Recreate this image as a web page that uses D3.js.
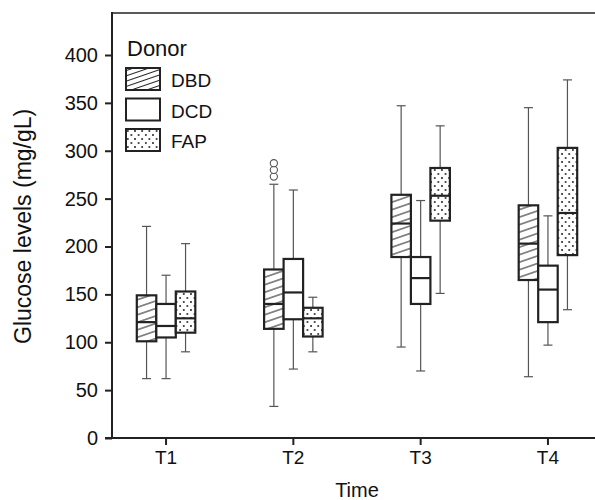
<!DOCTYPE html>
<html>
<head>
<meta charset="utf-8">
<script src="https://cdn.jsdelivr.net/npm/d3@7"></script>
<style>
  body { margin: 0; background: #fff; }
  svg { display: block; font-family: "Liberation Sans", Arial, sans-serif; }
</style>
</head>
<body>
<div id="container"></div>
<script>
// DATA
const times = ["T1", "T2", "T3", "T4"];
const donors = ["DBD", "DCD", "FAP"];
const yTicks = [0, 50, 100, 150, 200, 250, 300, 350, 400];

// [min, q1, median, q3, max] per time point
const dbdStats = [[62, 101, 121, 149, 221], [33, 114, 140, 176, 265], [95, 189, 224, 254, 347], [64, 165, 203, 243, 345]];
const dcdStats = [[62, 105, 117, 140, 170], [72, 124, 152, 187, 259], [70, 140, 167, 189, 248], [97, 121, 155, 180, 232]];
const fapStats = [[90, 110, 125, 153, 203], [90, 106, 125, 136, 147], [151, 227, 253, 282, 326], [134, 191, 235, 303, 374]];
const dbdOutliers = [[], [273, 280, 287], [], []];
const dcdOutliers = [[], [], [], []];
const fapOutliers = [[], [], [], []];

const statsByDonor = { DBD: dbdStats, DCD: dcdStats, FAP: fapStats };
const outliersByDonor = { DBD: dbdOutliers, DCD: dcdOutliers, FAP: fapOutliers };

const boxes = [];
donors.forEach(donor => {
  times.forEach((t, i) => {
    const s = statsByDonor[donor][i];
    boxes.push({ time: t, donor, min: s[0], q1: s[1], med: s[2], q3: s[3], max: s[4], out: outliersByDonor[donor][i] });
  });
});

const width = 595, height = 500;

// SCALES
const x = d3.scaleBand().domain(times).range([102.4, 611.6]);
const y = d3.scaleLinear().domain([0, 400]).range([438, 55]);
const boxW = 19.5;
const offset = d3.scaleBand().domain(donors).range([-1.5 * boxW, 1.5 * boxW]);

const svg = d3.select("#container").append("svg")
  .attr("width", width)
  .attr("height", height);

// PATTERNS
const defs = svg.append("defs");
function hatch(id, gap) {
  const p = defs.append("pattern")
    .attr("id", id)
    .attr("patternUnits", "userSpaceOnUse")
    .attr("width", 10).attr("height", gap)
    .attr("patternTransform", "rotate(-19)");
  p.append("rect").attr("width", 10).attr("height", gap).attr("fill", "#fff");
  p.append("line").attr("x1", 0).attr("x2", 10).attr("y1", gap / 2).attr("y2", gap / 2)
    .attr("stroke", "#222").attr("stroke-width", 1);
}
hatch("hatch", 7.1);
hatch("hatchLegend", 5);

const dots = defs.append("pattern")
  .attr("id", "dots")
  .attr("patternUnits", "userSpaceOnUse")
  .attr("width", 7.2).attr("height", 8);
dots.append("rect").attr("width", 7.2).attr("height", 8).attr("fill", "#fff");
dots.append("circle").attr("cx", 1.8).attr("cy", 2).attr("r", 0.9).attr("fill", "#111");
dots.append("circle").attr("cx", 5.4).attr("cy", 6).attr("r", 0.9).attr("fill", "#111");

const fills = { DBD: "url(#hatch)", DCD: "#fff", FAP: "url(#dots)" };
const legendFills = { DBD: "url(#hatchLegend)", DCD: "#fff", FAP: "url(#dots)" };

// AXES
const yAxis = svg.append("g")
  .attr("transform", "translate(112,0)")
  .call(d3.axisLeft(y).tickValues(yTicks).tickSize(7).tickSizeOuter(0));
yAxis.select(".domain").remove();
yAxis.selectAll(".tick line").attr("stroke", "#222").attr("stroke-width", 2);
yAxis.selectAll(".tick text").attr("x", -14).attr("fill", "#111").style("font-size", "20px");

const xAxis = svg.append("g")
  .attr("transform", "translate(0,438)")
  .call(d3.axisBottom(x).tickSize(7).tickSizeOuter(0));
xAxis.select(".domain").remove();
xAxis.selectAll(".tick line").attr("stroke", "#222").attr("stroke-width", 2);
xAxis.selectAll(".tick text").attr("y", 13).attr("fill", "#111").style("font-size", "19px");

// frame lines
svg.append("line").attr("x1", 112).attr("x2", 112).attr("y1", 12).attr("y2", 439)
  .attr("stroke", "#222").attr("stroke-width", 2);
svg.append("line").attr("x1", 112).attr("x2", 595).attr("y1", 13).attr("y2", 13)
  .attr("stroke", "#222").attr("stroke-width", 1.5);
svg.append("line").attr("x1", 105).attr("x2", 595).attr("y1", 438).attr("y2", 438)
  .attr("stroke", "#222").attr("stroke-width", 2.2);

// axis titles
svg.append("text")
  .attr("transform", `translate(31,${y(221)}) rotate(-90)`)
  .attr("text-anchor", "middle")
  .attr("fill", "#111")
  .style("font-size", "23px")
  .text("Glucose levels (mg/gL)");

svg.append("text")
  .attr("x", 357).attr("y", 497)
  .attr("text-anchor", "middle")
  .attr("fill", "#111")
  .style("font-size", "20px")
  .text("Time");

// BOXES
const g = svg.selectAll(".box")
  .data(boxes)
  .enter().append("g")
  .attr("class", "box")
  .attr("transform", d => `translate(${x(d.time) + x.bandwidth() / 2 + offset(d.donor) + boxW / 2},0)`);

// whiskers
g.append("line").attr("x1", 0).attr("x2", 0)
  .attr("y1", d => y(d.q3)).attr("y2", d => y(d.max))
  .attr("stroke", "#555").attr("stroke-width", 1.2);
g.append("line").attr("x1", 0).attr("x2", 0)
  .attr("y1", d => y(d.q1)).attr("y2", d => y(d.min))
  .attr("stroke", "#555").attr("stroke-width", 1.2);
g.append("line").attr("x1", -4.5).attr("x2", 4.5)
  .attr("y1", d => y(d.max)).attr("y2", d => y(d.max))
  .attr("stroke", "#555").attr("stroke-width", 1.2);
g.append("line").attr("x1", -4.5).attr("x2", 4.5)
  .attr("y1", d => y(d.min)).attr("y2", d => y(d.min))
  .attr("stroke", "#555").attr("stroke-width", 1.2);

g.append("rect")
  .attr("x", -boxW / 2)
  .attr("width", boxW)
  .attr("y", d => y(d.q3))
  .attr("height", d => y(d.q1) - y(d.q3))
  .attr("fill", d => fills[d.donor])
  .attr("stroke", "#222")
  .attr("stroke-width", 2.2);

g.append("line").attr("x1", -boxW / 2).attr("x2", boxW / 2)
  .attr("y1", d => y(d.med)).attr("y2", d => y(d.med))
  .attr("stroke", "#222").attr("stroke-width", 2.2);

g.selectAll("circle.out")
  .data(d => d.out)
  .enter().append("circle")
  .attr("class", "out")
  .attr("cx", 0)
  .attr("cy", v => y(v))
  .attr("r", 3.6)
  .attr("fill", "#fff")
  .attr("stroke", "#555")
  .attr("stroke-width", 1.1);

// LEGEND
const legend = svg.append("g").attr("transform", "translate(126,0)");
legend.append("text")
  .attr("x", 1).attr("y", 56)
  .attr("fill", "#111")
  .style("font-size", "22px")
  .text("Donor");

const items = legend.selectAll(".item")
  .data(donors)
  .enter().append("g")
  .attr("class", "item")
  .attr("transform", (d, i) => `translate(0,${68 + i * 30.5})`);
items.append("rect")
  .attr("width", 34).attr("height", 22)
  .attr("fill", d => legendFills[d])
  .attr("stroke", "#222").attr("stroke-width", 2);
items.append("text")
  .attr("x", 45).attr("y", 19)
  .attr("fill", "#111")
  .style("font-size", "19px")
  .text(d => d);
</script>
</body>
</html>
